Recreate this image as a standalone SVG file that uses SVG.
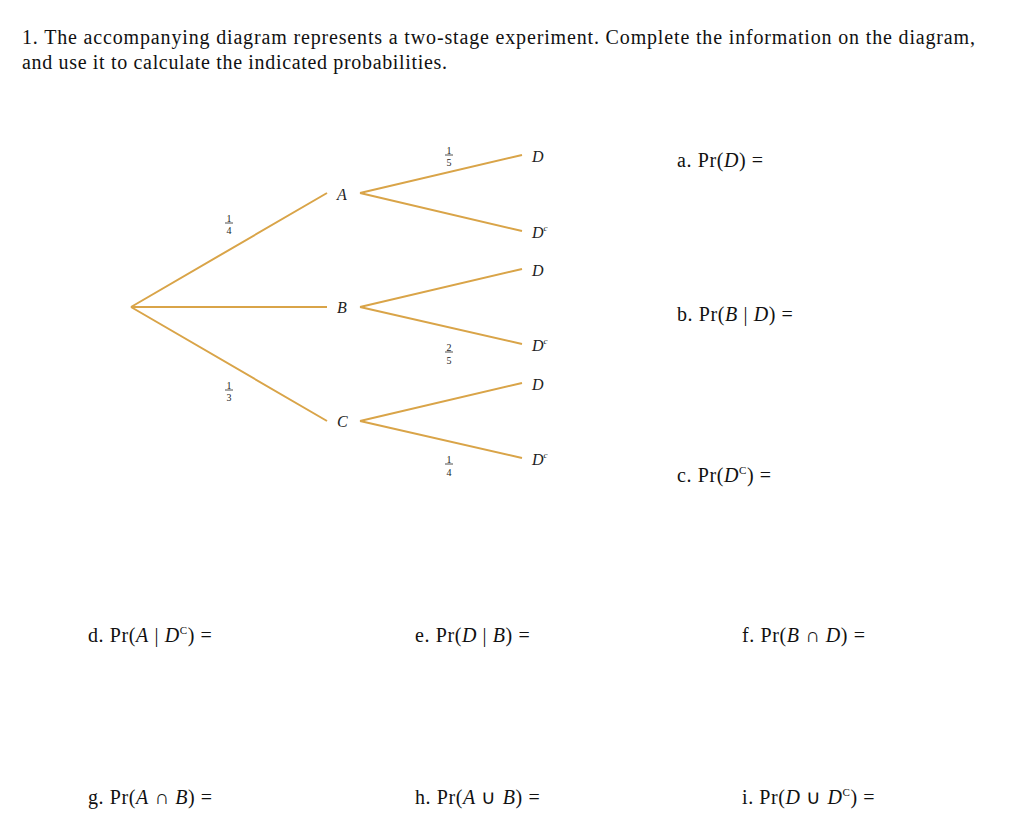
<svg xmlns="http://www.w3.org/2000/svg" width="1024" height="834" viewBox="0 0 1024 834">
<style>
.t{font-family:"Liberation Serif",serif;font-size:20px;fill:#111}
.q{font-family:"Liberation Serif",serif;font-size:20px;fill:#111;letter-spacing:0.6px}
.l{font-family:"Liberation Serif",serif;font-size:16px;fill:#222;font-style:italic}
.f{font-family:"Liberation Serif",serif;font-size:10px;fill:#222;text-anchor:middle}
.br{stroke:#D9A448;stroke-width:2;fill:none}
.fb{stroke:#222;stroke-width:0.8}
</style>
<rect width="1024" height="834" fill="#fff"/>
<text class="t" x="22" y="44" textLength="953" lengthAdjust="spacing">1. The accompanying diagram represents a two-stage experiment. Complete the information on the diagram,</text>
<text class="t" x="22" y="69" textLength="425" lengthAdjust="spacing">and use it to calculate the indicated probabilities.</text>
<g id="connectors">
<path class="br" d="M131 307 L327 193 M131 307 L327 307 M131 307 L327 421"/>
<path class="br" d="M360 193 L522 155 M360 193 L522 231 M360 307 L522 269 M360 307 L522 344 M360 421 L522 383 M360 421 L522 458"/>
</g>
<g id="nodeA"><text class="l" x="337" y="200">A</text></g>
<g id="nodeB"><text class="l" x="337" y="313">B</text></g>
<g id="nodeC"><text class="l" x="337" y="427">C</text></g>
<g id="leaves">
<text class="l" x="532" y="162">D</text>
<text class="l" x="532" y="238">D<tspan font-size="9" dy="-7">c</tspan></text>
<text class="l" x="532" y="276">D</text>
<text class="l" x="532" y="351">D<tspan font-size="9" dy="-7">c</tspan></text>
<text class="l" x="532" y="390">D</text>
<text class="l" x="532" y="465">D<tspan font-size="9" dy="-7">c</tspan></text>
</g>
<g id="fractions">
<text class="f" x="229" y="222">1</text><line class="fb" x1="225" y1="223" x2="233" y2="223"/><text class="f" x="229" y="234">4</text>
<text class="f" x="229" y="389">1</text><line class="fb" x1="225" y1="390" x2="233" y2="390"/><text class="f" x="229" y="401">3</text>
<text class="f" x="449" y="154">1</text><line class="fb" x1="445" y1="155" x2="453" y2="155"/><text class="f" x="449" y="166">5</text>
<text class="f" x="449" y="351">2</text><line class="fb" x1="445" y1="352" x2="453" y2="352"/><text class="f" x="449" y="364">5</text>
<text class="f" x="449" y="463">1</text><line class="fb" x1="445" y1="464" x2="453" y2="464"/><text class="f" x="449" y="476">4</text>
</g>
<g id="questions">
<text class="q" x="677" y="167">a.  Pr(<tspan font-style="italic">D</tspan>) =</text>
<text class="q" x="677" y="321">b.  Pr(<tspan font-style="italic">B</tspan> | <tspan font-style="italic">D</tspan>) =</text>
<text class="q" x="677" y="482">c.  Pr(<tspan font-style="italic">D</tspan><tspan font-size="11" dy="-8">C</tspan><tspan dy="8">) =</tspan></text>
<text class="q" x="88" y="642">d.  Pr(<tspan font-style="italic">A</tspan> | <tspan font-style="italic">D</tspan><tspan font-size="11" dy="-8">C</tspan><tspan dy="8">) =</tspan></text>
<text class="q" x="415" y="642">e.  Pr(<tspan font-style="italic">D</tspan> | <tspan font-style="italic">B</tspan>) =</text>
<text class="q" x="742" y="642">f.  Pr(<tspan font-style="italic">B</tspan> ∩ <tspan font-style="italic">D</tspan>) =</text>
<text class="q" x="88" y="804">g.  Pr(<tspan font-style="italic">A</tspan> ∩ <tspan font-style="italic">B</tspan>) =</text>
<text class="q" x="415" y="804">h.  Pr(<tspan font-style="italic">A</tspan> ∪ <tspan font-style="italic">B</tspan>) =</text>
<text class="q" x="742" y="804">i.  Pr(<tspan font-style="italic">D</tspan> ∪ <tspan font-style="italic">D</tspan><tspan font-size="11" dy="-8">C</tspan><tspan dy="8">) =</tspan></text>
</g>
</svg>
